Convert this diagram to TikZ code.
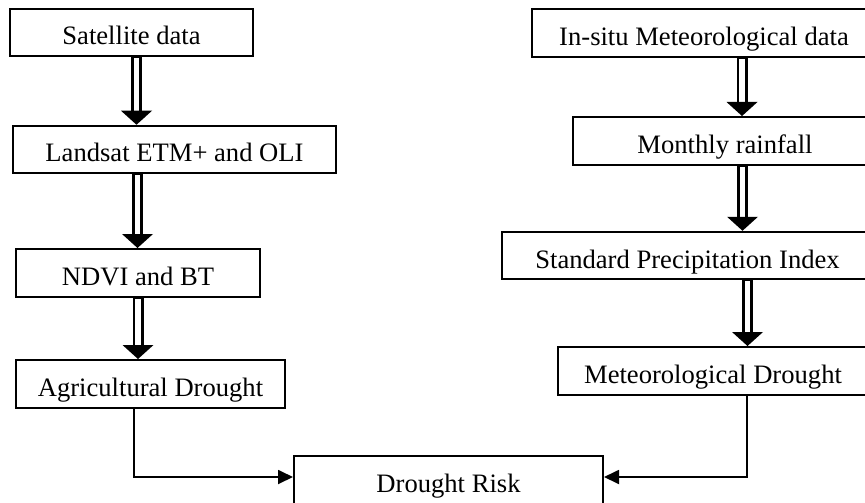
\documentclass[tikz,border=0pt]{standalone}
\usepackage{fontspec}
\setmainfont{Liberation Serif}
\usetikzlibrary{arrows.meta}
\newcommand\dblarr[2]{%
  \draw[line width=5.5pt] (#1) -- ([yshift=6.5pt]#2);
  \draw[white,line width=2.8pt] ([yshift=-0.6pt]#1) -- ([yshift=7pt]#2);
  \fill ([xshift=-7.75pt,yshift=7pt]#2) -- ([xshift=7.75pt,yshift=7pt]#2) -- (#2) -- cycle;
}
\begin{document}
\begin{tikzpicture}[x=0.5pt,y=-0.5pt,
  box/.style={draw,line width=1pt,inner sep=0pt,font=\fontsize{13.3}{16}\selectfont,
    text height=12.5pt,text depth=0pt,minimum height=#1},
  box/.default=23.75pt,
  conn/.style={draw,line width=0.9pt,-{Triangle[length=7.5pt,width=7pt]}}]
\useasboundingbox (0,0) rectangle (865,502);
% left column
\node[box,minimum width=121.5pt] (sat) at (131.5,32.5) {Satellite data};
\node[box,minimum width=161.5pt] (land) at (174.5,149.5) {Landsat ETM+ and OLI};
\node[box=24pt,minimum width=122pt] (ndvi) at (138,273) {NDVI and BT};
\node[box=24pt,minimum width=134.5pt] (agri) at (150.5,384) {Agricultural Drought};
% right column
\node[box=24pt,minimum width=172pt] (insitu) at (704,33) {In-situ Meteorological data};
\node[box=24pt,minimum width=152pt] (month) at (725,141) {Monthly rainfall};
\node[box,minimum width=185.5pt] (spi) at (687.5,255.5) {Standard Precipitation Index};
\node[box=24pt,minimum width=155pt] (met) at (713,371) {Meteorological Drought};
% bottom
\node[box=24pt,minimum width=154.5pt] (risk) at (448.5,480) {Drought Risk};
% double arrows
\coordinate (a1s) at ([xshift=2.5pt]sat.south);
\coordinate (a1e) at (a1s |- land.north);
\coordinate (a2s) at ([xshift=-18.5pt]land.south);
\coordinate (a2e) at (a2s |- ndvi.north);
\coordinate (a3s) at (ndvi.south);
\coordinate (a3e) at (a3s |- agri.north);
\coordinate (a4s) at ([xshift=19pt]insitu.south);
\coordinate (a4e) at (a4s |- month.north);
\coordinate (a5s) at ([xshift=8.75pt]month.south);
\coordinate (a5e) at (a5s |- spi.north);
\coordinate (a6s) at ([xshift=30pt]spi.south);
\coordinate (a6e) at (a6s |- met.north);
\dblarr{a1s}{a1e}
\dblarr{a2s}{a2e}
\dblarr{a3s}{a3e}
\dblarr{a4s}{a4e}
\dblarr{a5s}{a5e}
\dblarr{a6s}{a6e}
% single connectors
\coordinate (a7s) at ([xshift=-8.25pt]agri.south);
\coordinate (a8s) at ([xshift=17pt]met.south);
\draw[conn] (a7s) |- ([yshift=1.5pt]risk.west);
\draw[conn] (a8s) |- ([yshift=1.5pt]risk.east);
\end{tikzpicture}
\end{document}
